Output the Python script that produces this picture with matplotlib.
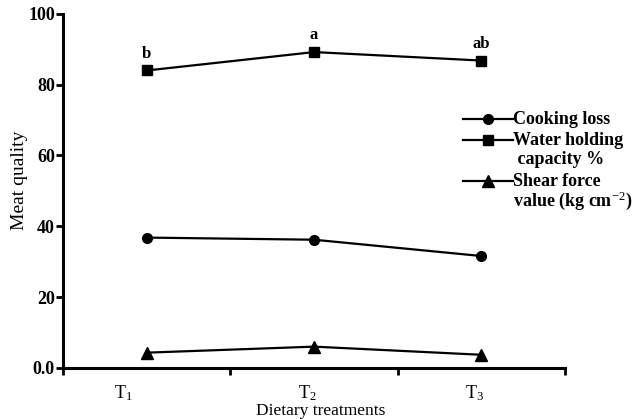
import matplotlib
matplotlib.use("Agg")
import matplotlib.pyplot as plt

plt.rcParams['font.family'] = ['Liberation Serif', 'DejaVu Serif']
plt.rcParams['mathtext.fontset'] = 'custom'
plt.rcParams['mathtext.rm'] = 'Liberation Serif'
plt.rcParams['mathtext.it'] = 'Liberation Serif:italic'
plt.rcParams['mathtext.bf'] = 'Liberation Serif:bold'

treatments = ["T$_1$", "T$_2$", "T$_3$"]
cookingLoss = [36.8, 36.2, 31.6]
waterHolding = [84.0, 89.2, 86.8]
shearForce = [4.3, 6.0, 3.7]
whcLetters = ["b", "a", "ab"]

xPos = [0.5, 1.5, 2.5]

fig = plt.figure(figsize=(6.39, 4.19), dpi=100)
ax = fig.add_axes([0.099, 0.122, 0.785, 0.845])

ax.plot(xPos, cookingLoss, color="black", lw=1.6, marker="o", ms=7)
ax.plot(xPos, waterHolding, color="black", lw=1.6, marker="s", ms=7)
ax.plot(xPos, shearForce, color="black", lw=1.6, marker="^", ms=8)

for x, y, lab in zip(xPos, waterHolding, whcLetters):
    ax.text(x, y + 2.5, lab, ha="center", va="bottom", fontsize=12, fontweight="bold")

ax.set_xlim(0, 3)
ax.set_ylim(0, 100)
ax.set_xticks([0, 1, 2, 3])
ax.set_xticklabels([])
ax.set_xticks([0.36, 1.46, 2.46], minor=True)
ax.set_xticklabels(treatments, minor=True, fontsize=13)
ax.tick_params(axis="x", which="minor", length=0, pad=11)
ax.tick_params(axis="x", which="major", length=5, width=2, direction="out")
ax.set_yticks([0, 20, 40, 60, 80, 100])
ax.set_yticklabels(["0.0", "20", "40", "60", "80", "100"], fontsize=13, fontweight="bold")
ax.tick_params(axis="y", length=5, width=2, direction="out", pad=1)

for side in ["top", "right"]:
    ax.spines[side].set_visible(False)
for side in ["left", "bottom"]:
    ax.spines[side].set_linewidth(2.2)

ax.set_ylabel("Meat quality", fontsize=14)
ax.yaxis.set_label_coords(-0.071, 0.53)
ax.set_xlabel("Dietary treatments", fontsize=12.5)
ax.xaxis.set_label_coords(0.514, -0.099)

# legend drawn by hand so the marker lines up with the first text line
legItems = [("o", ["Cooking loss"], 7), ("s", ["Water holding", " capacity %"], 7),
            ("^", ["Shear force", "value (kg cm$^{-2}$)"], 8)]
legY = [119, 140, 181]
for (mk, lines, ms), yPix in zip(legItems, legY):
    yf = 1 - yPix / 419
    fig.lines.append(plt.Line2D([463 / 639, 513 / 639], [yf, yf], color="black", lw=1.6,
                                transform=fig.transFigure))
    fig.lines.append(plt.Line2D([488 / 639], [yf], color="black", marker=mk, ms=ms,
                                transform=fig.transFigure))
    for k, ln in enumerate(lines):
        fig.text(513 / 639, 1 - (yPix + 19.5 * k) / 419, ln, ha="left", va="center",
                 fontsize=13, fontweight="bold")

fig.savefig("out.png", dpi=100)
